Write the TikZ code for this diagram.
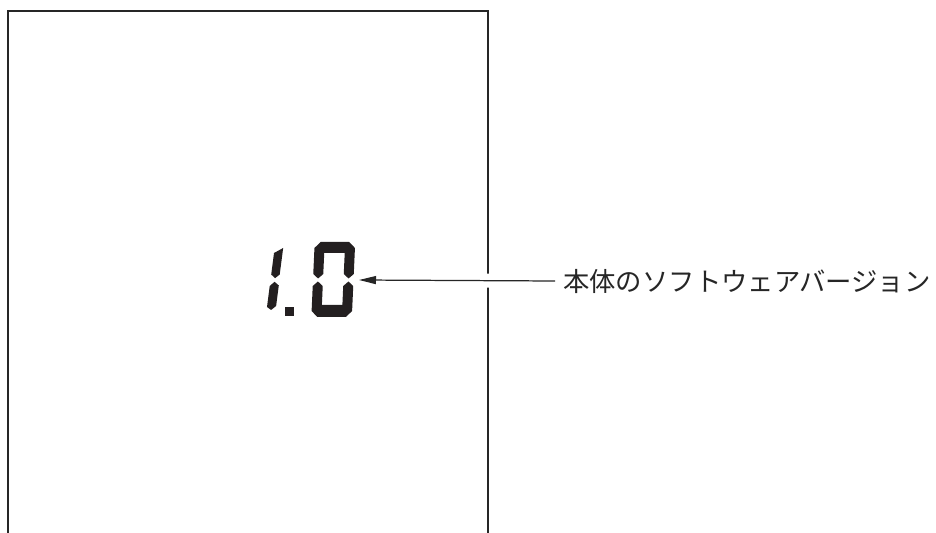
\documentclass[tikz,border=0pt]{standalone}
\usepackage{fontspec}
\newfontfamily\jpfont{Noto Sans CJK JP}
\usepackage{tikz}
\usetikzlibrary{arrows.meta,positioning}
\definecolor{segInk}{RGB}{35,31,32}
\tikzset{
  frameline/.style={line width=1.1pt, draw=black!85},
  segfill/.style={fill=segInk, draw=none},
  caption/.style={
    inner ysep=0pt, inner xsep=4.5pt, anchor=west,
    font=\jpfont\fontsize{15pt}{17pt}\selectfont,
    text=black!85
  },
  myarr/.style={-{Triangle[length=3.4mm,width=1.6mm]}, line width=0.7pt, draw=black!85,
    preaction={draw=white, line width=2.8mm, -}},
}
\begin{document}
\begin{tikzpicture}[x=0.02cm, y=-0.02cm]
  \useasboundingbox (0,0) rectangle (936,533);

  % housing of the unit
  \draw[frameline] (8,533) -- (8,11) -- (488,11) -- (488,533);

  % label and pointer
  \coordinate (disp) at (359,280);
  \node[caption] (lbl) at (555,281) {本体のソフトウェアバージョン};
  \draw[myarr] (lbl.west) -- (disp);

  % digit 1
  \begin{scope}[shift={(0,280)}, xslant=0.13]
    \fill[segfill] (270.5,-27) -- (279,-32) -- (279,-5.5) -- (274.8,-1.8) -- (270.5,-5.5) -- cycle;
    \fill[segfill] (270.5,6) -- (274.8,1.8) -- (279.5,5.5) -- (279.5,26) -- (275,30) -- (270.5,27) -- cycle;
  \end{scope}
  % decimal point
  \fill[segfill] (285,307) rectangle (294,316);
  % digit 0
  \begin{scope}[shift={(0,280)}, xslant=0.045]
    \fill[segfill] (318,-1.5) -- (313,-6) -- (313,-32) -- (319,-38) -- (347.5,-38) -- (353.5,-32)
      -- (353.5,-6) -- (348.5,-1.5) -- (343.5,-6) -- (343.5,-27) -- (323,-27) -- (323,-6) -- cycle;
    \fill[segfill] (318,1.5) -- (323,6) -- (323,25) -- (343.5,25) -- (343.5,6) -- (348.5,1.5)
      -- (353.5,6) -- (353.5,31) -- (347.5,37) -- (319,37) -- (313,31) -- (313,6) -- cycle;
  \end{scope}
\end{tikzpicture}
\end{document}
